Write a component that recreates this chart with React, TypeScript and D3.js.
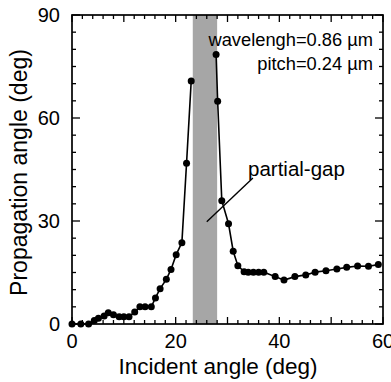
import { scaleLinear, line, range } from "d3";

// left branch (below the gap) and right branch (above the gap)
const incidentLow = [0, 1.7, 3.2, 4.3, 5.1, 6.2, 7, 8, 9.1, 10, 11, 12.1, 13.1, 14.1, 15.3, 16.1, 17, 18.2, 19.1, 20.1, 21.2, 22.1, 23];
const propagationLow = [0, 0, 0, 1, 1.7, 2.3, 3.3, 2.7, 2.1, 2.1, 2.1, 3.5, 5, 5, 5, 7.6, 10.3, 13, 15.9, 20.2, 23.7, 46.8, 70.8];
const incidentHigh = [27.8, 28.1, 28.9, 30.2, 31.1, 32, 33.2, 34, 35, 36, 37, 39.2, 40.9, 43, 45.1, 46.9, 49, 51.1, 53, 55.1, 57.2, 59.1];
const propagationHigh = [78.5, 64.9, 35.9, 29.2, 21.2, 17, 15.2, 15.1, 15.1, 15.1, 15.1, 13.8, 12.8, 13.8, 14.3, 15.1, 15.5, 16, 16.5, 16.9, 16.8, 17.3];

const gapBand = [23.3, 28.0];
const xTickLabels = [0, 20, 40, 60];
const yTickLabels = [0, 30, 60, 90];
const annotationLine = [[26, 29.8], [34.9, 42.5]];

const W = 391;
const H = 382;
const left = 72;
const right = 383;
const top = 15;
const bottom = 324;
const font = "'Liberation Sans', Arial, sans-serif";

export default function App() {
  const x = scaleLinear().domain([0, 60]).range([left, right]);
  const y = scaleLinear().domain([0, 90]).range([bottom, top]);

  const lowPts = incidentLow.map((d, i) => [d, propagationLow[i]] as [number, number]);
  const highPts = incidentHigh.map((d, i) => [d, propagationHigh[i]] as [number, number]);
  const lineGen = line<[number, number]>()
    .x((d) => x(d[0]))
    .y((d) => y(d[1]));

  const xMinor = range(0, 61, 2);
  const yMinor = range(0, 91, 5);

  return (
    <svg
      width={W}
      height={H}
      style={{ position: "absolute", left: 0, top: 0, background: "#fff" }}
      fontFamily={font}
    >
      <rect
        x={x(gapBand[0])}
        y={top}
        width={x(gapBand[1]) - x(gapBand[0])}
        height={bottom - top}
        fill="#a6a6a6"
      />

      {/* ticks, inward on all four sides */}
      {xMinor.map((d) => {
        const len = d % 10 === 0 ? 7 : 4;
        return (
          <g key={"xt" + d} stroke="#000" strokeWidth={1.3}>
            <line x1={x(d)} x2={x(d)} y1={bottom} y2={bottom - len} />
            <line x1={x(d)} x2={x(d)} y1={top} y2={top + len} />
          </g>
        );
      })}
      {yMinor.map((d) => {
        const len = d % 30 === 0 ? 8 : 4;
        return (
          <g key={"yt" + d} stroke="#000" strokeWidth={1.3}>
            <line x1={left} x2={left + len} y1={y(d)} y2={y(d)} />
            <line x1={right} x2={right - len} y1={y(d)} y2={y(d)} />
          </g>
        );
      })}

      <rect
        x={left}
        y={top}
        width={right - left}
        height={bottom - top}
        fill="none"
        stroke="#000"
        strokeWidth={1.7}
      />

      <path d={lineGen(lowPts) ?? ""} fill="none" stroke="#000" strokeWidth={1.6} />
      <path d={lineGen(highPts) ?? ""} fill="none" stroke="#000" strokeWidth={1.6} />
      {[...lowPts, ...highPts].map((p, i) => (
        <circle key={i} cx={x(p[0])} cy={y(p[1])} r={3.5} fill="#000" />
      ))}

      {xTickLabels.map((d) => (
        <text key={"xl" + d} x={x(d)} y={348} fontSize={20} textAnchor="middle">
          {d}
        </text>
      ))}
      {yTickLabels.map((d) => (
        <text key={"yl" + d} x={left - 12} y={y(d) + 6.5} fontSize={20} textAnchor="end">
          {d}
        </text>
      ))}

      <text x={218} y={374} fontSize={22.5} textAnchor="middle">
        Incident angle (deg)
      </text>
      <text
        transform={`translate(27,${(top + bottom) / 2 + 3}) rotate(-90)`}
        fontSize={23}
        textAnchor="middle"
      >
        Propagation angle (deg)
      </text>

      <text x={373} y={46} fontSize={18.3} textAnchor="end">
        wavelengh=0.86 µm
      </text>
      <text x={373} y={70} fontSize={18.3} textAnchor="end">
        pitch=0.24 µm
      </text>

      <line
        x1={x(annotationLine[0][0])}
        y1={y(annotationLine[0][1])}
        x2={x(annotationLine[1][0])}
        y2={y(annotationLine[1][1])}
        stroke="#000"
        strokeWidth={1.4}
      />
      <text x={248} y={176} fontSize={20.5}>
        partial-gap
      </text>
    </svg>
  );
}
